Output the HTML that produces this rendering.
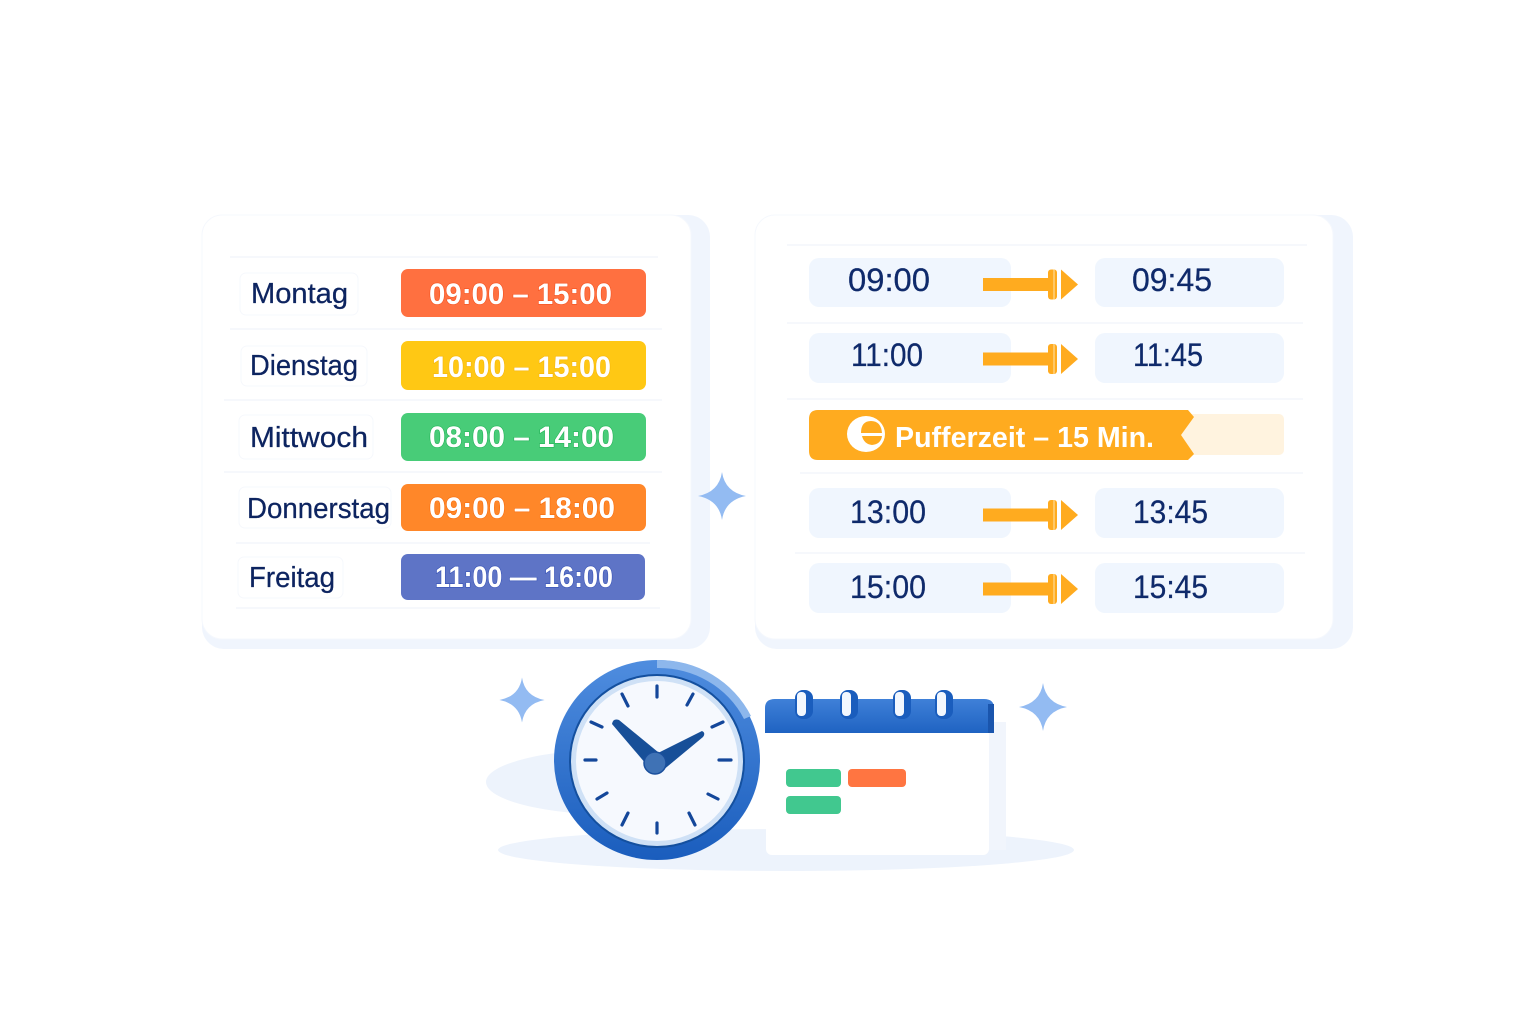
<!DOCTYPE html>
<html lang="de"><head><meta charset="utf-8"><title>Zeitplan</title>
<style>html,body{margin:0;padding:0;background:#fff}svg{display:block}
.d{font-family:"Liberation Sans","Noto Sans CJK SC",sans-serif;font-size:29px;fill:#0d2460;stroke:#0d2460;stroke-width:.25}
.t{font-family:"Liberation Sans","Noto Sans CJK SC",sans-serif;font-size:30px;font-weight:700;fill:#fff;stroke-width:1.2;paint-order:stroke}
.r{font-family:"Liberation Sans","Noto Sans CJK SC",sans-serif;font-size:32px;fill:#0f2a6b;stroke:#0f2a6b;stroke-width:.25}
</style></head><body>
<svg width="1536" height="1024" viewBox="0 0 1536 1024" xmlns="http://www.w3.org/2000/svg">
<defs>
<g id="a"><rect x="983" y="-6.5" width="66" height="13" fill="#ffab1f"/><rect x="1048" y="-15" width="9" height="30" rx="3" fill="#ffab1f"/><rect x="1053" y="-15" width="2" height="30" fill="#ffc866"/><path d="M1061 -15L1078 0L1061 15Z" fill="#ffab1f"/></g>
<path id="s" d="M0 -24Q3 -4 24 0Q3 4 0 24Q-3 4 -24 0Q-3 -4 0 -24Z" fill="#93bbf2"/>
<linearGradient id="rg" x1="0" y1="0" x2="0" y2="1"><stop offset="0" stop-color="#4f8ddf"/><stop offset="1" stop-color="#1a5dbd"/></linearGradient>
<linearGradient id="hg" x1="0" y1="0" x2="0" y2="1"><stop offset="0" stop-color="#3f80d8"/><stop offset="1" stop-color="#1f63c2"/></linearGradient>
</defs>
<rect width="1536" height="1024" fill="#fff"/>

<!-- left card -->
<rect x="202" y="215" width="508" height="434" rx="22" fill="#f0f5fd"/>
<rect x="202" y="215" width="489" height="424" rx="20" fill="#fff" stroke="#f5f8fd"/>
<g stroke="#f0f4fa" stroke-width="1.2"><path d="M230 257H658M230 329H662M224 400H662M224 472H662M236 543H650M236 608H660"/></g>
<g fill="#fff" stroke="#f6f8fc"><rect x="240" y="273" width="118" height="42" rx="6"/><rect x="241" y="346" width="126" height="40" rx="6"/><rect x="239" y="415" width="134" height="44" rx="6"/><rect x="239" y="487" width="152" height="41" rx="6"/><rect x="238" y="557" width="105" height="41" rx="6"/></g>
<text class="d" x="251" y="303" textLength="97" lengthAdjust="spacingAndGlyphs">Montag</text>
<text class="d" x="250" y="375" textLength="108" lengthAdjust="spacingAndGlyphs">Dienstag</text>
<text class="d" x="250" y="447" textLength="118" lengthAdjust="spacingAndGlyphs">Mittwoch</text>
<text class="d" x="247" y="518" textLength="143" lengthAdjust="spacingAndGlyphs">Donnerstag</text>
<text class="d" x="249" y="587" textLength="86" lengthAdjust="spacingAndGlyphs">Freitag</text>
<rect x="401" y="269" width="245" height="48" rx="7" fill="#ff7040"/>
<rect x="401" y="341" width="245" height="49" rx="7" fill="#ffc814"/>
<rect x="401" y="413" width="245" height="48" rx="7" fill="#48cc78"/>
<rect x="401" y="484" width="245" height="47" rx="7" fill="#ff8729"/>
<rect x="401" y="554" width="244" height="46" rx="7" fill="#5e74c6"/>
<text class="t" x="429" y="304" stroke="#f4511e" textLength="183" lengthAdjust="spacingAndGlyphs">09:00 – 15:00</text>
<text class="t" x="432" y="377" stroke="#f5b50a" textLength="179" lengthAdjust="spacingAndGlyphs">10:00 – 15:00</text>
<text class="t" x="429" y="447" stroke="#22b457" textLength="185" lengthAdjust="spacingAndGlyphs">08:00 – 14:00</text>
<text class="t" x="429" y="518" stroke="#f86c0c" textLength="186" lengthAdjust="spacingAndGlyphs">09:00 – 18:00</text>
<text class="t" x="435" y="587" stroke="#3450b5" textLength="178" lengthAdjust="spacingAndGlyphs">11:00 — 16:00</text>

<!-- right card -->
<rect x="755" y="215" width="598" height="434" rx="22" fill="#f0f5fd"/>
<rect x="755" y="215" width="578" height="424" rx="20" fill="#fff" stroke="#f5f8fd"/>
<g stroke="#f0f4fa" stroke-width="1.2"><path d="M787 245H1307M787 323H1303M787 399H1303M800 473H1303M795 553H1305"/></g>
<g fill="#f0f6fe">
<rect x="809" y="258" width="202" height="49" rx="10"/><rect x="1095" y="258" width="189" height="49" rx="10"/>
<rect x="809" y="333" width="202" height="50" rx="10"/><rect x="1095" y="333" width="189" height="50" rx="10"/>
<rect x="809" y="488" width="202" height="50" rx="10"/><rect x="1095" y="488" width="189" height="50" rx="10"/>
<rect x="809" y="563" width="202" height="50" rx="10"/><rect x="1095" y="563" width="189" height="50" rx="10"/>
</g>
<use href="#a" y="284.5"/><use href="#a" y="359"/><use href="#a" y="515"/><use href="#a" y="589"/>
<g>
<text class="r" x="848" y="291" textLength="82" lengthAdjust="spacingAndGlyphs">09:00</text>
<text class="r" x="1132" y="291" textLength="80" lengthAdjust="spacingAndGlyphs">09:45</text>
<text class="r" x="851" y="366" textLength="72" lengthAdjust="spacingAndGlyphs">11:00</text>
<text class="r" x="1133" y="366" textLength="70" lengthAdjust="spacingAndGlyphs">11:45</text>
<text class="r" x="850" y="523" textLength="76" lengthAdjust="spacingAndGlyphs">13:00</text>
<text class="r" x="1133" y="523" textLength="75" lengthAdjust="spacingAndGlyphs">13:45</text>
<text class="r" x="850" y="598" textLength="76" lengthAdjust="spacingAndGlyphs">15:00</text>
<text class="r" x="1133" y="598" textLength="75" lengthAdjust="spacingAndGlyphs">15:45</text>
</g>
<rect x="1180" y="414" width="104" height="41" rx="5" fill="#fff3df"/>
<path d="M818 410H1188L1194 417L1181 435L1194 454L1188 460H818Q809 460 809 451V419Q809 410 818 410Z" fill="#ffab1f"/>
<ellipse cx="866" cy="434" rx="19" ry="18" fill="#fff"/>
<path d="M861 433Q861 421 871 421Q881 421 882 433Z" fill="#ffab1f"/><path d="M862 436H882Q881 444 872 445Q864 444 862 436Z" fill="#ffab1f"/>
<text x="895" y="447" font-family="'Liberation Sans','Noto Sans CJK SC',sans-serif" font-size="29" font-weight="700" fill="#fff" textLength="259" lengthAdjust="spacingAndGlyphs">Pufferzeit – 15 Min.</text>

<!-- sparkles -->
<use href="#s" x="722" y="496"/><use href="#s" transform="translate(522 700) scale(.94)"/><use href="#s" x="1043" y="707"/>

<!-- ground -->
<ellipse cx="786" cy="850" rx="288" ry="21" fill="#edf3fc"/>
<ellipse cx="620" cy="782" rx="134" ry="33" fill="#edf3fc"/>
<rect x="985" y="722" width="21" height="128" fill="#f1f5fc"/>

<!-- calendar -->
<rect x="766" y="725" width="223" height="130" rx="6" fill="#fff"/>
<path d="M765 733V708Q765 699 775 699H984Q994 699 994 708V733Z" fill="url(#hg)"/>
<rect x="988" y="704" width="6" height="29" fill="#1a55ad"/>
<g fill="#1a5dbd"><rect x="795" y="690" width="18" height="29" rx="8"/><rect x="840" y="690" width="18" height="29" rx="8"/><rect x="893" y="690" width="18" height="29" rx="8"/><rect x="935" y="690" width="18" height="29" rx="8"/></g>
<g fill="#f2f7fe"><rect x="797" y="692" width="9" height="24" rx="4"/><rect x="842" y="692" width="9" height="24" rx="4"/><rect x="895" y="692" width="9" height="24" rx="4"/><rect x="937" y="692" width="9" height="24" rx="4"/></g>
<rect x="786" y="769" width="55" height="18" rx="4" fill="#41c88f"/>
<rect x="848" y="769" width="58" height="18" rx="4" fill="#ff7541"/>
<rect x="786" y="796" width="55" height="18" rx="4" fill="#41c88f"/>

<!-- clock -->
<ellipse cx="657" cy="760" rx="103" ry="100" fill="url(#rg)"/>
<path d="M657 660A103 100 0 0 1 751 716L744 719A95 92 0 0 0 657 668Z" fill="#8db7ec"/>
<ellipse cx="657" cy="761" rx="88" ry="87" fill="#14509f"/>
<ellipse cx="657" cy="761" rx="86" ry="85" fill="#cfe1f6"/>
<ellipse cx="657" cy="761" rx="81" ry="80" fill="#f6f9fe"/>
<g stroke="#14479a" stroke-width="3.2" stroke-linecap="round">
<path d="M657 686V697M657 823V833M622 694L628 706M693 694L687 705M591 722L602 727M723 722L712 727M585 760H596M719 760H731M597 799L607 793M718 799L708 794M622 825L628 813M695 825L689 813"/>
</g>
<path d="M612 724Q613 718 619 720L664 757L652 771Z" fill="#174f98"/>
<path d="M702 731Q706 733 703 737L662 771L652 756Z" fill="#174f98"/>
<circle cx="655" cy="763" r="11" fill="#3f72b5" stroke="#1a4f9c" stroke-width="1.5"/>
</svg>
</body></html>
